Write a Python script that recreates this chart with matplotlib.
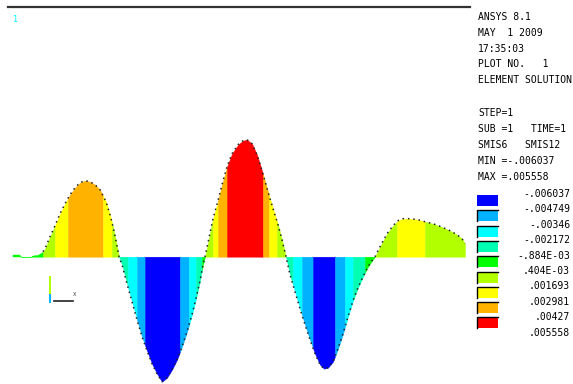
import matplotlib
matplotlib.use('Agg')
import matplotlib.pyplot as plt
from matplotlib.patches import Rectangle
import numpy as np

# moment diagram along the beam (station, moment)
station = [13, 20, 21, 31, 32, 38, 43, 45, 50, 55, 60, 65, 70, 75, 80, 85, 90, 95,
           100, 103, 106, 110, 113, 116, 119,
           122, 127, 132, 137, 142, 147, 152, 157, 162, 167, 172, 177, 182, 187,
           192, 196, 200, 203, 205,
           208, 213, 218, 222, 227, 232, 238, 243, 247, 252, 257, 262, 266, 270,
           274, 278, 282, 286,
           290, 295, 300, 305, 310, 315, 320, 324, 328, 333, 338, 343, 348, 353,
           358, 363, 368, 372, 375,
           380, 387, 393, 398, 403, 410, 418, 425, 433, 441, 450, 457, 462, 465]
moment = [1.5, 1.5, 0, 0, 1, 2, 5, 8, 20, 31, 43, 53, 62, 69, 74, 76, 75, 72,
          67, 61, 55, 42, 30, 16, 0,
          -8, -27, -45, -63, -80, -94, -107, -117, -125, -121, -113, -103, -90, -75,
          -58, -42, -24, -8, 0,
          14, 38, 56, 72, 90, 103, 112, 116, 117, 113, 102, 86, 72, 58,
          45, 32, 17, 0,
          -18, -35, -52, -68, -83, -97, -108, -112, -111, -105, -92, -77, -60, -44,
          -31, -20, -10, -4, 0,
          10, 23, 31, 36, 38, 38, 37, 35, 33, 30, 26, 22, 18, 13]

# contour bands: edges along the beam and the legend colour index of each band
band_edges = [13, 20, 32, 43, 55, 68, 103, 112, 119, 128, 137, 145, 180, 189, 196,
              202, 205, 213, 218, 227, 263, 269, 277, 286, 293, 302, 313, 335, 345,
              353, 365, 375, 397, 425, 465]
band_level = [4, 4, 4, 5, 6, 7, 6, 5, 3, 2, 1, 0, 1, 2, 3,
              4, 5, 6, 7, 8, 7, 6, 5, 3, 2, 1, 0, 1, 2,
              3, 4, 5, 6, 5]

level_colors = ['#0000ff', '#00b2ff', '#00ffff', '#00ffb2', '#00ff00',
                '#b2ff00', '#ffff00', '#ffb200', '#ff0000']
level_labels = ['-.006037', '-.004749', '-.00346', '-.002172', '-.884E-03',
                '.404E-03', '.001693', '.002981', '.00427', '.005558']

header = ['ANSYS 8.1', 'MAY  1 2009', '17:35:03', 'PLOT NO.   1', 'ELEMENT SOLUTION']
info = ['STEP=1', 'SUB =1   TIME=1', 'SMIS6   SMIS12', 'MIN =-.006037', 'MAX =.005558']

W, H = 573, 384
fig = plt.figure(figsize=(W / 100, H / 100), dpi=100)
ax = fig.add_axes([0, 0, 1, 1])
ax.set_xlim(0, W)
ax.set_ylim(-127.3, 256.7)
ax.axis('off')

st = np.array(station, dtype=float)
mo = np.array(moment, dtype=float)
for a, b, lev in zip(band_edges[:-1], band_edges[1:], band_level):
    inside = (st > a) & (st < b)
    xs = np.concatenate([[a], st[inside], [b]])
    ys = np.interp(xs, st, mo)
    ax.fill_between(xs, 0, ys, color=level_colors[lev], lw=0.3, ec=level_colors[lev])

# node dots along the outline (not on the near-zero start)
ax.plot(station[6:], moment[6:], color='#222222', lw=1.1, ls=(0, (1, 2.5)))


def fx(x):
    return x / W


def fy(y):
    return 1 - y / H


# top frame line and window number
fig.add_artist(plt.Line2D([fx(8), fx(470)], [fy(7), fy(7)], color='#333333', lw=1.6))
fig.text(fx(16), fy(19), '1', color='#00ffff', fontsize=6, ha='center', va='center',
         family='DejaVu Sans Mono')

# small triad
fig.add_artist(plt.Line2D([fx(50), fx(50)], [fy(277), fy(295)], color='#b2ff00', lw=1.4))
fig.add_artist(plt.Line2D([fx(50), fx(50)], [fy(295), fy(302)], color='#00b2ff', lw=1.4))
fig.add_artist(plt.Line2D([fx(54), fx(73)], [fy(301), fy(301)], color='#222222', lw=1.2))
fig.text(fx(75), fy(295), 'X', fontsize=3.5, ha='center', va='center', color='#333333')

mono = dict(family='DejaVu Sans Mono', fontsize=7, color='black', va='center', ha='left')
for i, t in enumerate(header):
    fig.text(fx(478), fy(17 + i * 15.8), t, **mono)
for i, t in enumerate(info):
    fig.text(fx(478), fy(113 + i * 16), t, **mono)

for i, c in enumerate(level_colors):
    top = 195 + i * 15.3
    fig.add_artist(Rectangle((fx(477), fy(top + 11)), fx(21), 11 / H, transform=fig.transFigure,
                             fc=c, ec='none'))
    if i > 0:
        fig.add_artist(plt.Line2D([fx(477), fx(477), fx(498)], [fy(top + 11), fy(top), fy(top)],
                                  color='black', lw=1.0))
for i, t in enumerate(level_labels):
    fig.text(fx(570), fy(194 + i * 15.4), t, family='DejaVu Sans Mono', fontsize=7,
             color='black', va='center', ha='right')

fig.savefig('out.png', dpi=100)
